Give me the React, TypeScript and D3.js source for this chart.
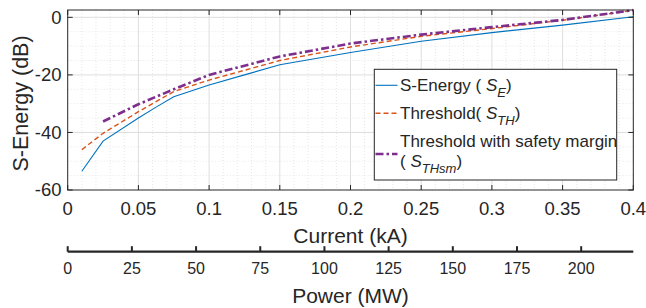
import React from 'react';
import * as d3 from 'd3';

// values
const currentE = [0.01, 0.025, 0.05, 0.0625, 0.075, 0.1, 0.125, 0.15, 0.2, 0.25, 0.3, 0.35, 0.4];
const sEnergy = [-53.5, -43, -35, -31.2, -27.6, -23.5, -20, -16.5, -12.2, -8.3, -5.3, -2.7, 0.2];

const currentTH = [0.01, 0.025, 0.05, 0.075, 0.1, 0.15, 0.2, 0.25, 0.3, 0.35, 0.4];
const sThreshold = [-46, -40.3, -32.8, -25.8, -21.8, -15, -10.3, -6.6, -3.9, -1, 2.4];

const currentTHsm = [0.025, 0.05, 0.075, 0.1, 0.15, 0.2, 0.25, 0.3, 0.35, 0.4];
const sThresholdSm = [-36.2, -30.2, -25, -20, -13.6, -9.1, -6, -3.4, -0.9, 2.5];

const currentTicks = [0, 0.05, 0.1, 0.15, 0.2, 0.25, 0.3, 0.35, 0.4];
const currentTickLabels = ['0', '0.05', '0.1', '0.15', '0.2', '0.25', '0.3', '0.35', '0.4'];
const dbTicks = [0, -20, -40, -60];
const powerTicks = [0, 25, 50, 75, 100, 125, 150, 175, 200];
const powerMax = 220.3;

const FONT = '"Liberation Sans", Arial, Helvetica, sans-serif';
const INK = '#262626';

const App = () => {
  const width = 646;
  const height = 308;
  const left = 67.7;
  const right = 633.3;
  const top = 10;
  const bottom = 190;

  const x = d3.scaleLinear().domain([0, 0.4]).range([left, right]);
  const y = d3.scaleLinear().domain([-60, 2.55]).range([bottom, top]);
  const xp = d3.scaleLinear().domain([0, powerMax]).range([left, right]);

  const line = d3.line<[number, number]>()
    .x((d) => x(d[0]))
    .y((d) => y(d[1]));

  const pts = (xs: number[], ys: number[]) => xs.map((v, i) => [v, ys[i]] as [number, number]);

  const minorX = d3.range(0.01, 0.4, 0.01).filter((v) => Math.abs(v / 0.05 - Math.round(v / 0.05)) > 1e-6);
  const minorY = d3.range(-55, 2.5, 5).filter((v) => v % 20 !== 0);

  const powerY = 251.7;

  // legend
  const lgX = 374.3;
  const lgY = 69.3;
  const lgW = 242.4;
  const lgH = 110.7;
  const sampleX1 = 375.5;
  const sampleX2 = 397.5;
  const textX = 400;

  return (
    <svg
      width={width}
      height={height}
      style={{ position: 'absolute', left: 0, top: 0, background: '#fff' }}
      fontFamily={FONT}
    >
      {/* minor grid */}
      <g stroke="#e6e6e6" strokeWidth={1} strokeDasharray="1,2">
        {minorX.map((v, i) => (
          <line key={'mx' + i} x1={x(v)} x2={x(v)} y1={top} y2={bottom} />
        ))}
        {minorY.map((v, i) => (
          <line key={'my' + i} x1={left} x2={right} y1={y(v)} y2={y(v)} />
        ))}
      </g>
      {/* major grid */}
      <g stroke="#dedede" strokeWidth={1}>
        {currentTicks.slice(1, -1).map((v, i) => (
          <line key={'gx' + i} x1={x(v)} x2={x(v)} y1={top} y2={bottom} />
        ))}
        {dbTicks.slice(0, -1).map((v, i) => (
          <line key={'gy' + i} x1={left} x2={right} y1={y(v)} y2={y(v)} />
        ))}
      </g>

      {/* series */}
      <path d={line(pts(currentE, sEnergy)) || ''} fill="none" stroke="#0072BD" strokeWidth={1.1} />
      <path
        d={line(pts(currentTH, sThreshold)) || ''}
        fill="none"
        stroke="#D95319"
        strokeWidth={1.4}
        strokeDasharray="5,3"
      />
      <path
        d={line(pts(currentTHsm, sThresholdSm)) || ''}
        fill="none"
        stroke="#7E2F8E"
        strokeWidth={2.6}
        strokeDasharray="8,3,2.5,3"
      />

      {/* axes box and ticks */}
      <rect x={left} y={top} width={right - left} height={bottom - top} fill="none" stroke={INK} strokeWidth={1} />
      <g stroke={INK} strokeWidth={1}>
        {currentTicks.map((v, i) => (
          <g key={'tx' + i}>
            <line x1={x(v)} x2={x(v)} y1={bottom} y2={bottom - 5} />
            <line x1={x(v)} x2={x(v)} y1={top} y2={top + 5} />
          </g>
        ))}
        {dbTicks.map((v, i) => (
          <g key={'ty' + i}>
            <line x1={left} x2={left + 5} y1={y(v)} y2={y(v)} />
            <line x1={right} x2={right - 5} y1={y(v)} y2={y(v)} />
          </g>
        ))}
      </g>

      {/* tick labels */}
      <g fill={INK} fontSize={18.5}>
        {currentTicks.map((v, i) => (
          <text key={'lx' + i} x={x(v)} y={215} textAnchor="middle">
            {currentTickLabels[i]}
          </text>
        ))}
        {dbTicks.map((v, i) => (
          <text key={'ly' + i} x={61.5} y={y(v)} dy="0.35em" textAnchor="end">
            {v}
          </text>
        ))}
      </g>

      {/* axis labels */}
      <text x={350.5} y={243.3} textAnchor="middle" fontSize={21} fill={INK}>
        Current (kA)
      </text>
      <text
        transform={`translate(28.3, 103.5) rotate(-90)`}
        textAnchor="middle"
        fontSize={21.5}
        fill={INK}
      >
        S-Energy (dB)
      </text>

      {/* power axis */}
      <line x1={left} x2={right} y1={powerY} y2={powerY} stroke={INK} strokeWidth={2.2} />
      <g stroke={INK} strokeWidth={2}>
        {powerTicks.map((v, i) => (
          <line key={'pt' + i} x1={xp(v)} x2={xp(v)} y1={powerY} y2={powerY - 5.5} />
        ))}
      </g>
      <g fill={INK} fontSize={16}>
        {powerTicks.map((v, i) => (
          <text key={'pl' + i} x={xp(v)} y={274} textAnchor="middle">
            {v}
          </text>
        ))}
      </g>
      <text x={350.5} y={302.5} textAnchor="middle" fontSize={21} fill={INK}>
        Power (MW)
      </text>

      {/* legend */}
      <rect x={lgX} y={lgY} width={lgW} height={lgH} fill="#fff" stroke={INK} strokeWidth={1} />
      <line x1={sampleX1} x2={sampleX2} y1={85.3} y2={85.3} stroke="#0072BD" strokeWidth={1.1} />
      <line x1={sampleX1} x2={sampleX2} y1={113.3} y2={113.3} stroke="#D95319" strokeWidth={1.4} strokeDasharray="5,3" />
      <line x1={sampleX1} x2={sampleX2} y1={154} y2={154} stroke="#7E2F8E" strokeWidth={2.6} strokeDasharray="8,3,2.5,3" />
      <g fill={INK} fontSize={17}>
        <text x={textX} y={90.7}>
          S-Energy ( <tspan fontStyle="italic">S</tspan>
          <tspan fontStyle="italic" fontSize={13} dy={6}>E</tspan>
          <tspan dy={-6}>)</tspan>
        </text>
        <text x={textX} y={118.5}>
          Threshold( <tspan fontStyle="italic">S</tspan>
          <tspan fontStyle="italic" fontSize={13} dy={6}>TH</tspan>
          <tspan dy={-6}>)</tspan>
        </text>
        <text x={textX} y={146.7}>Threshold with safety margin</text>
        <text x={textX} y={166.7}>
          ( <tspan fontStyle="italic">S</tspan>
          <tspan fontStyle="italic" fontSize={13} dy={6}>THsm</tspan>
          <tspan dy={-6}>)</tspan>
        </text>
      </g>
    </svg>
  );
};

export default App;
